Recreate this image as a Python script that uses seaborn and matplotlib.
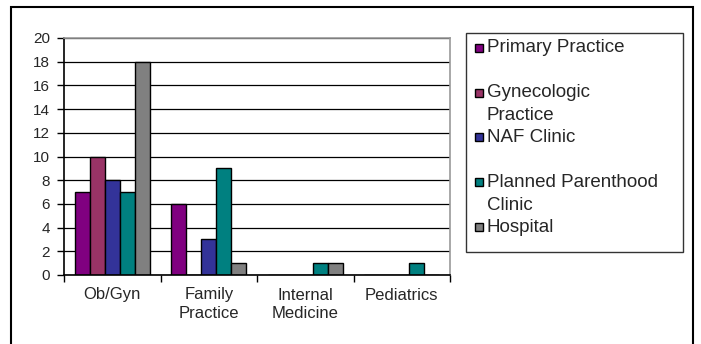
import matplotlib
matplotlib.use("Agg")
import matplotlib.pyplot as plt
from matplotlib.patches import Rectangle
import seaborn as sns
import pandas as pd

# Data
categories = ["Ob/Gyn", "Family\nPractice", "Internal\nMedicine", "Pediatrics"]
series = ["Primary Practice", "Gynecologic Practice", "NAF Clinic",
          "Planned Parenthood Clinic", "Hospital"]
legend_labels = ["Primary Practice", "Gynecologic\nPractice", "NAF Clinic",
                 "Planned Parenthood\nClinic", "Hospital"]
primary = [7, 6, 0, 0]
gynecologic = [10, 0, 0, 0]
naf = [8, 3, 0, 0]
planned = [7, 9, 1, 1]
hospital = [18, 1, 1, 0]
colors = ["#800080", "#993366", "#333399", "#008080", "#808080"]
y_ticks = list(range(0, 21, 2))

df = pd.DataFrame({"category": categories * 5,
                   "series": [s for s in series for _ in categories],
                   "count": primary + gynecologic + naf + planned + hospital})

sns.set_style("white")
plt.rcParams['font.family'] = ['Liberation Sans', 'DejaVu Sans']

W, H = 701, 344
fig = plt.figure(figsize=(W / 100, H / 100), dpi=100)

# outer chart frame
fig.add_artist(Rectangle((11 / W, -0.1), (693 - 11) / W, 1 - 7 / H + 0.1,
                         transform=fig.transFigure, fill=False,
                         edgecolor='black', lw=1.5, clip_on=False))

ax = fig.add_axes([64 / W, 1 - 275 / H, (450 - 64) / W, (275 - 38) / H])
sns.barplot(data=df, x="category", y="count", hue="series", order=categories,
            hue_order=series, palette=colors, width=0.78, edgecolor='black',
            linewidth=1, saturation=1, legend=False, ax=ax)

ax.set_ylim(0, 20)
ax.set_xlim(-0.5, 3.5)
ax.set_yticks(y_ticks)
ax.yaxis.grid(True, color='black', lw=0.9)
ax.set_axisbelow(True)
ax.set_xlabel("")
ax.set_ylabel("")
ax.tick_params(axis='y', length=5, width=1, color='black', pad=5,
               labelsize=11, left=True, direction='out')
ax.set_xticks(range(len(categories)))
ax.set_xticklabels(categories, fontsize=12, linespacing=1.25)
ax.tick_params(axis='x', length=0, pad=9)
ax.set_xticks([-0.5, 0.5, 1.5, 2.5, 3.5], minor=True)
ax.tick_params(axis='x', which='minor', length=5, width=1, color='black',
               bottom=True, direction='out')
for side in ['left', 'bottom']:
    ax.spines[side].set_color('black')
    ax.spines[side].set_linewidth(1.2)
for side in ['top', 'right']:
    ax.spines[side].set_color('#999999')
    ax.spines[side].set_linewidth(1.2)

# legend box drawn by hand so wrapped labels hang below their markers
fig.add_artist(Rectangle((466 / W, 1 - 252 / H), (683 - 466) / W, (252 - 33) / H,
                         transform=fig.transFigure, fill=False,
                         edgecolor='#333333', lw=1))
for i, (label, c) in enumerate(zip(legend_labels, colors)):
    yc = 48 + i * 44.75
    fig.add_artist(Rectangle((475 / W, 1 - (yc + 4) / H), 8 / W, 8 / H,
                             transform=fig.transFigure, facecolor=c,
                             edgecolor='black', lw=1))
    for k, line in enumerate(label.split("\n")):
        fig.text(487 / W, 1 - (yc + k * 23) / H, line, fontsize=13.5,
                 va='center', ha='left')

fig.savefig("out.png", dpi=100)
